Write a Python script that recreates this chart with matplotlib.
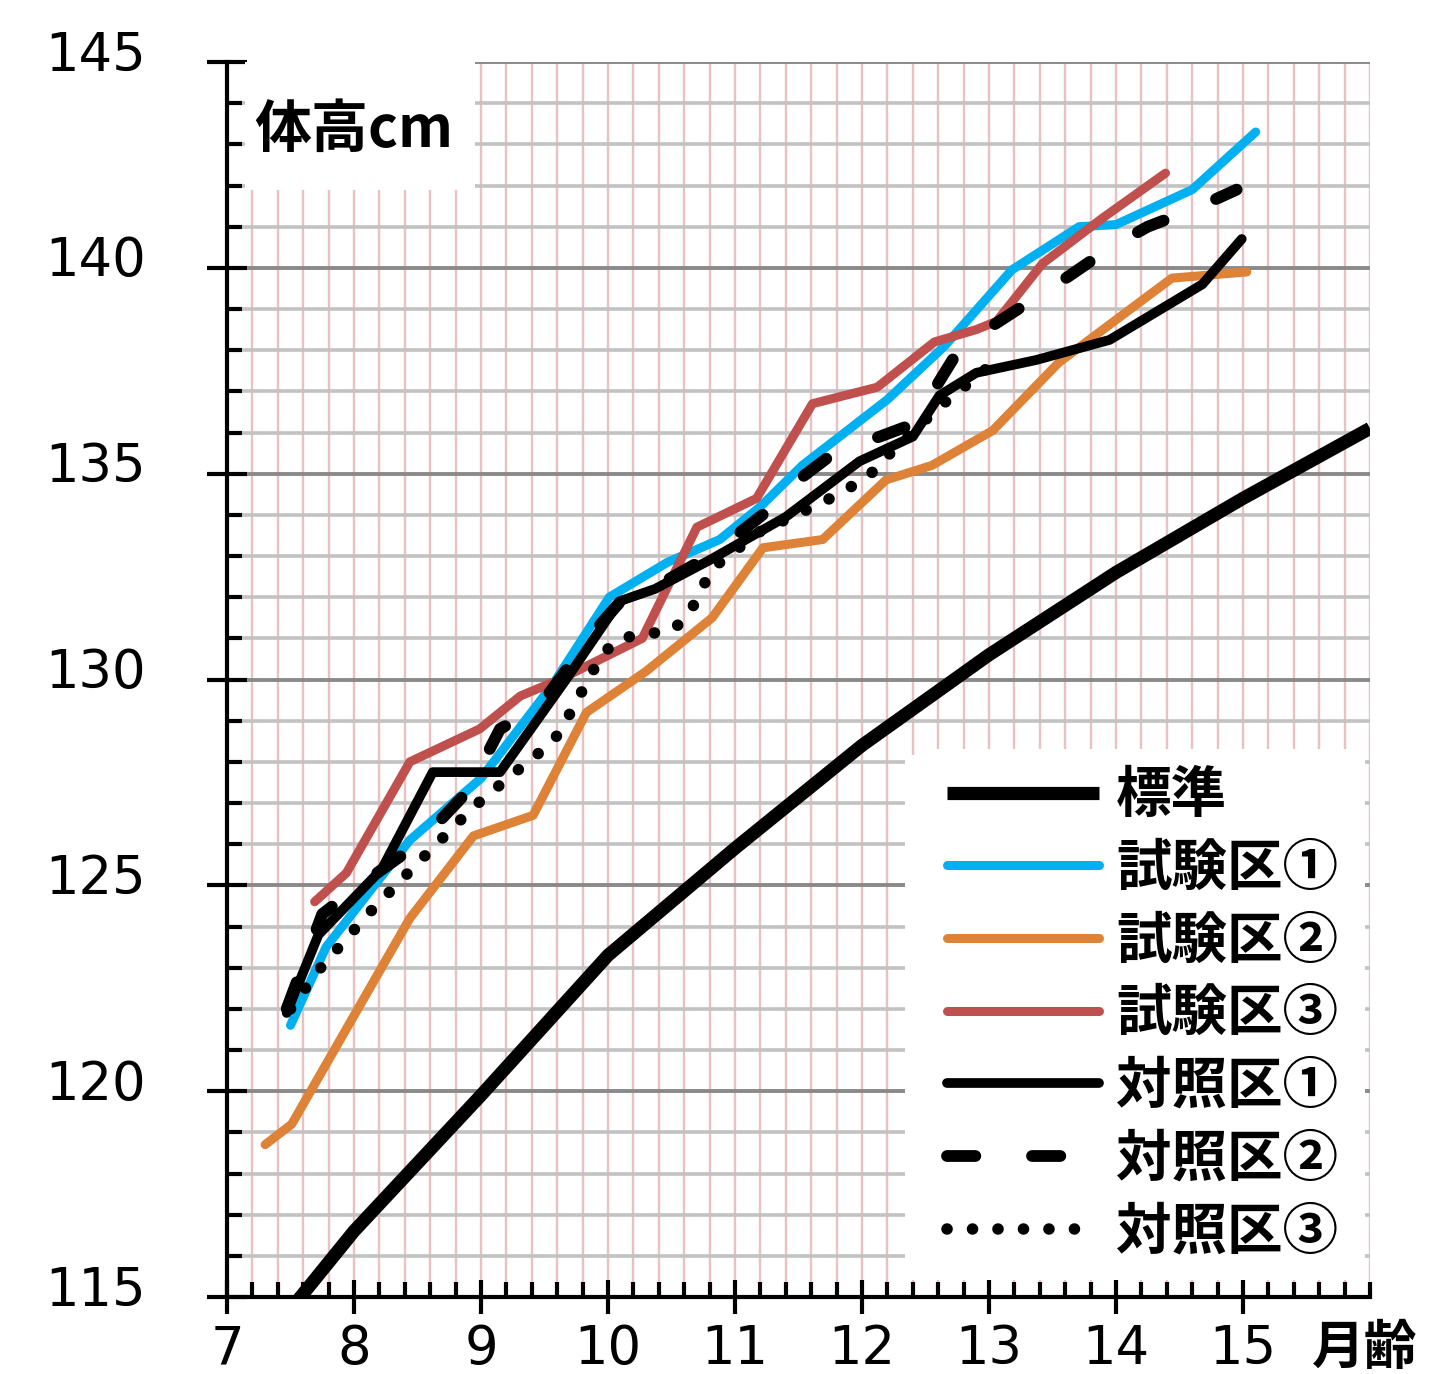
import numpy as np
import matplotlib
matplotlib.use("Agg")
import matplotlib.pyplot as plt
from matplotlib.ticker import FixedLocator
from matplotlib.patches import Rectangle
from matplotlib.transforms import ScaledTranslation

plt.rcParams['font.family'] = ['DejaVu Sans']
JP = ['Noto Sans CJK JP', 'DejaVu Sans']

# 標準 (standard growth curve)
std_x = [7, 8, 9, 10, 11, 12, 13, 14, 15, 16]
std_y = [112.8, 116.6, 119.9, 123.3, 125.9, 128.4, 130.6, 132.6, 134.4, 136.1]

# 試験区①
t1_x = [7.50, 7.78, 8.44, 9.00, 9.57, 10.01, 10.47, 10.88, 11.20, 11.53, 12.20, 12.65, 13.18, 13.71, 14.00, 14.60, 15.10]
t1_y = [121.6, 123.5, 126.1, 127.6, 129.9, 132.0, 132.85, 133.4, 134.2, 135.2, 136.8, 138.1, 139.95, 141.0, 141.05, 141.9, 143.3]

# 試験区②
t2_x = [7.30, 7.51, 8.44, 8.94, 9.41, 9.83, 10.30, 10.82, 11.22, 11.69, 12.19, 12.55, 13.03, 13.55, 14.44, 15.03]
t2_y = [118.7, 119.2, 124.2, 126.2, 126.7, 129.2, 130.2, 131.5, 133.2, 133.4, 134.85, 135.2, 136.05, 137.7, 139.75, 139.9]

# 試験区③
t3_x = [7.69, 7.94, 8.44, 8.99, 9.31, 9.62, 10.27, 10.70, 11.17, 11.61, 12.12, 12.57, 12.90, 13.06, 13.42, 13.89, 14.39]
t3_y = [124.6, 125.3, 128.0, 128.8, 129.6, 130.0, 131.0, 133.7, 134.4, 136.7, 137.1, 138.2, 138.5, 138.7, 140.1, 141.2, 142.3]

# 対照区①
c1_x = [7.47, 7.72, 8.22, 8.62, 9.15, 9.67, 10.09, 10.37, 10.80, 11.40, 11.98, 12.40, 12.61, 12.90, 13.37, 13.95, 14.68, 14.99]
c1_y = [121.9, 123.8, 125.4, 127.75, 127.75, 130.0, 131.9, 132.2, 132.9, 133.95, 135.3, 135.9, 136.9, 137.45, 137.76, 138.25, 139.6, 140.7]

# 対照区②
c2_x = [7.47, 7.75, 8.00, 8.50, 8.90, 9.15, 9.45, 9.90, 10.10, 10.40, 10.80, 11.30, 11.50, 11.82, 12.14, 12.40, 12.60, 12.80, 13.03, 13.38, 13.63, 13.96, 14.25, 14.63, 14.95]
c2_y = [122.0, 124.3, 124.9, 126.0, 127.3, 128.8, 129.3, 131.2, 131.9, 132.3, 133.0, 134.2, 134.85, 135.6, 135.9, 136.2, 137.2, 138.2, 138.6, 139.3, 139.8, 140.5, 141.0, 141.45, 141.9]

# 対照区③
c3_x = [7.50, 7.71, 8.11, 8.52, 8.94, 9.25, 9.57, 9.67, 9.95, 10.09, 10.51, 10.64, 10.82, 11.20, 11.69, 12.04, 12.19, 12.60, 13.08]
c3_y = [122.0, 122.9, 124.3, 125.6, 126.9, 127.7, 128.5, 129.0, 130.6, 131.0, 131.2, 131.6, 132.7, 133.6, 134.3, 134.9, 135.4, 136.6, 137.8]

labels = ['標準', '試験区①', '試験区②', '試験区③', '対照区①', '対照区②', '対照区③']
y_ticks = [115, 120, 125, 130, 135, 140, 145]
x_ticks = [7, 8, 9, 10, 11, 12, 13, 14, 15]

fig = plt.figure(figsize=(14.42, 13.74), dpi=100)
ax = fig.add_axes([227 / 1442, 77 / 1374, 1143 / 1442, 1235 / 1374])
ax.set_axisbelow(True)

ax.plot(std_x, std_y, color='black', lw=9.5, solid_capstyle='butt', label=labels[0], zorder=3)
ax.plot(t1_x, t1_y, color='#00B0F0', lw=6.5, solid_capstyle='round', label=labels[1], zorder=3)
ax.plot(t2_x, t2_y, color='#DD8236', lw=6.5, solid_capstyle='round', label=labels[2], zorder=3)
ax.plot(t3_x, t3_y, color='#C0504D', lw=6.5, solid_capstyle='round', label=labels[3], zorder=3)
ax.plot(c1_x, c1_y, color='black', lw=7, solid_capstyle='round', label=labels[4], zorder=4)
ax.plot(c2_x, c2_y, color='black', lw=8.5, ls=(0, (2.4, 4.8)), dash_capstyle='round', label=labels[5], zorder=4)
ax.plot(c3_x, c3_y, color='black', lw=8.3, ls=(0, (0.01, 2.2)), dash_capstyle='round', label=labels[6], zorder=4)

ax.set_xlim(7, 16)
ax.set_ylim(115, 145)

# grid: pink verticals every 0.2 month, grey horizontals every 1 cm
ax.xaxis.set_major_locator(FixedLocator(x_ticks))
ax.xaxis.set_minor_locator(FixedLocator(np.round(np.arange(7, 16.01, 0.2), 1)))
ax.yaxis.set_major_locator(FixedLocator(y_ticks))
ax.yaxis.set_minor_locator(FixedLocator(np.arange(115, 146, 1)))
ax.grid(axis='x', which='both', color='#EBC0C0', lw=1.7)
ax.grid(axis='y', which='minor', color='#C2C2C2', lw=2.6)
ax.grid(axis='y', which='major', color='#8A8A8A', lw=2.8)

for s in ['top', 'right']:
    ax.spines[s].set_visible(False)
for s in ['left', 'bottom']:
    ax.spines[s].set_linewidth(3)

ax.set_xticklabels([str(v) for v in x_ticks])
ax.set_yticklabels([str(v) for v in y_ticks])
ax.tick_params(axis='y', which='major', direction='inout', length=29, width=3, pad=44, labelsize=38)
ax.tick_params(axis='y', which='minor', direction='in', length=11, width=3)
ax.tick_params(axis='x', which='major', direction='inout', length=24, width=3, pad=7, labelsize=38)
ax.tick_params(axis='x', which='minor', direction='in', length=11, width=3)

offset = ScaledTranslation(0, 0.12, fig.dpi_scale_trans)
for lab in ax.get_yticklabels():
    lab.set_transform(lab.get_transform() + offset)

# title box
ax.add_patch(Rectangle((18 / 1143, 1 - 128 / 1235), 230 / 1143, 128 / 1235,
                       transform=ax.transAxes, facecolor='white', edgecolor='none', zorder=1))
ax.text(27 / 1143, 1 - 68 / 1235, '体高cm', transform=ax.transAxes, family=JP,
        fontweight='bold', fontsize=41, va='center', ha='left', zorder=5)

fig.text(1365 / 1442, 1 - 1348 / 1374, '月齢', family=JP, fontweight='bold',
         fontsize=38, ha='center', va='center')

# white area behind the legend
ax.add_patch(Rectangle((678 / 1143, 17 / 1235), 460 / 1143, 525 / 1235,
                       transform=ax.transAxes, facecolor='white', edgecolor='none', zorder=1))
leg = ax.legend(loc='lower right', bbox_to_anchor=(0.989, 0.014), borderaxespad=0,
                prop=dict(family=JP, weight='bold', size=40), handlelength=2.75,
                handletextpad=0.3, labelspacing=0.3, frameon=True, fancybox=False,
                borderpad=0.35)
leg.get_frame().set_facecolor('white')
leg.get_frame().set_edgecolor('none')
leg.get_frame().set_alpha(1)

fig.savefig('out.png', dpi=100)
